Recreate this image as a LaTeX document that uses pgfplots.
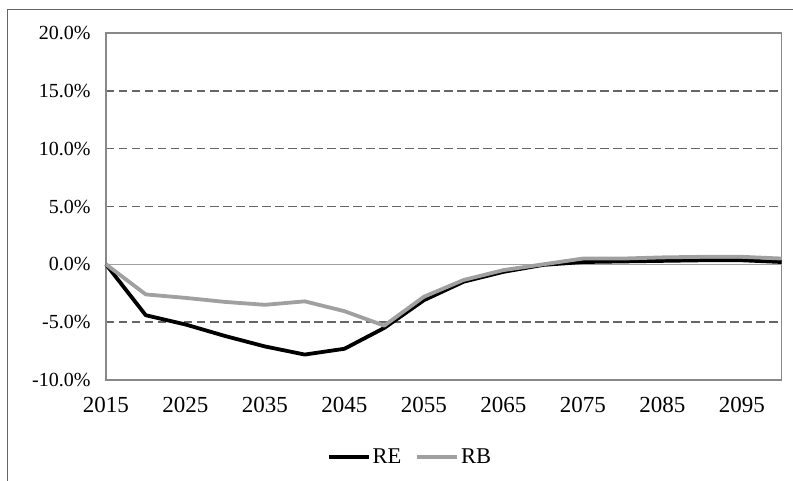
\documentclass[border=0pt]{standalone}
\usepackage{pgfplots}
\pgfplotsset{compat=1.18}
\usepackage{fontspec}
\setmainfont{Liberation Serif}

\definecolor{gridgray}{HTML}{666666}
\definecolor{boxgray}{HTML}{888888}
\definecolor{rbgray}{HTML}{A0A0A0}

\pgfplotstableread{
year RE RB
2015 0 0
2020 -4.4 -2.6
2025 -5.2 -2.9
2030 -6.2 -3.25
2035 -7.1 -3.5
2040 -7.8 -3.2
2045 -7.3 -4.05
2050 -5.5 -5.3
2055 -3.1 -2.8
2060 -1.5 -1.35
2065 -0.65 -0.5
2070 -0.05 0.0
2075 0.2 0.5
2080 0.25 0.5
2085 0.3 0.6
2090 0.35 0.65
2095 0.35 0.65
2100 0.2 0.5
}\datatable

\begin{document}
\begin{tikzpicture}
\useasboundingbox (-106bp,-101bp) rectangle (687bp,380bp);
\draw[gridgray, line width=1bp] (-98bp,-200bp) rectangle (720bp,370bp);
\begin{axis}[
  at={(0,0)}, anchor=south west,
  scale only axis,
  width=675.7bp, height=347bp,
  xmin=2015, xmax=2100,
  ymin=-10, ymax=20,
  axis line style={boxgray, line width=1.5bp},
  major tick length=0pt,
  xtick={2015,2025,2035,2045,2055,2065,2075,2085,2095},
  xticklabels={2015,2025,2035,2045,2055,2065,2075,2085,2095},
  ytick={-10,-5,5,10,15,20},
  yticklabels={-10.0\%,-5.0\%,5.0\%,10.0\%,15.0\%,20.0\%},
  extra y ticks={0},
  extra y tick labels={0.0\%},
  extra y tick style={major grid style={solid, rbgray, line width=0.8bp}},
  ymajorgrids,
  major grid style={dashed, gridgray, line width=1.5bp, dash pattern=on 8.5bp off 4.5bp},
  yticklabel style={font=\fontsize{20bp}{24bp}\selectfont, xshift=-12bp},
  xticklabel style={font=\fontsize{23bp}{27bp}\selectfont, yshift=-14bp},
  legend columns=2,
  legend style={at={(0.45,-0.222)}, anchor=center, draw=none,
    font=\fontsize{22.5bp}{26bp}\selectfont,
    /tikz/every even column/.append style={column sep=12bp}},
  legend image code/.code={\draw[#1] (0bp,0bp) -- (40bp,0bp);},
  clip=false,
]
\addplot[black, line width=3.8bp, line join=round] table[x=year, y=RE] {\datatable};
\addlegendentry{RE}
\addplot[rbgray, line width=3.8bp, line join=round] table[x=year, y=RB] {\datatable};
\addlegendentry{RB}
\end{axis}
\end{tikzpicture}
\end{document}
